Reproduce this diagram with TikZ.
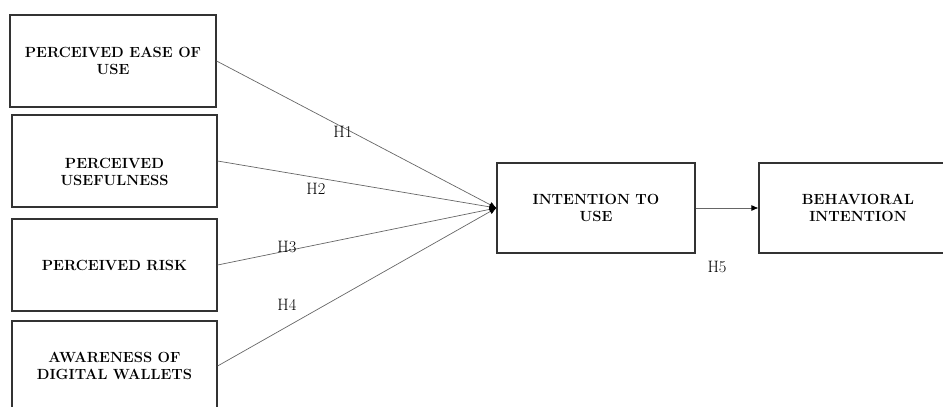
\documentclass[tikz,border=0pt]{standalone}
\usepackage{tikz}
\usetikzlibrary{arrows.meta}

\begin{document}
\begin{tikzpicture}[x=1pt,y=-1pt,
  construct/.style={draw=black!80,line width=1.2pt,rectangle,inner sep=0pt,align=center,
    font=\fontsize{14.7}{17}\selectfont\bfseries,minimum height=92pt},
  ctext/.style={align=center,inner sep=0pt,font=\fontsize{14.7}{17}\selectfont\bfseries},
  hyp/.style={inner sep=0pt,font=\fontsize{16.5}{18}\selectfont},
  path/.style={draw=black!60,line width=0.7pt,-{Latex[length=7pt,width=6pt,black]}}]
\useasboundingbox (0,0) rectangle (943,407);
\clip (0,0) rectangle (943,407);
% constructs
\node[construct,minimum width=206pt] (peou) at (113,61) {PERCEIVED EASE OF\\USE};
\node[construct,minimum width=205pt] (pu) at (114.5,161) {};
\node[ctext] (putext) at (114.5,172) {PERCEIVED\\USEFULNESS};
\node[construct,minimum width=205pt] (pr) at (114.5,265) {PERCEIVED RISK};
\node[construct,minimum width=205pt,minimum height=90pt] (adw) at (114.5,366) {AWARENESS OF\\DIGITAL WALLETS};
\node[construct,minimum width=198pt,minimum height=90pt] (itu) at (596,208) {INTENTION TO\\USE};
\node[construct,minimum width=198pt,minimum height=90pt] (bi) at (858,208) {BEHAVIORAL\\INTENTION};
% paths
\foreach \src in {peou,pu,pr,adw}
  \draw[path] (\src.east) -- (itu.west);
\draw[path] (itu.east) -- (bi.west);
% hypotheses
\node[hyp] (h1) at (343,132) {H1};
\node[hyp] (h2) at (316,189) {H2};
\node[hyp] (h3) at (287,247) {H3};
\node[hyp] (h4) at (287,305) {H4};
\node[hyp] (h5) at (717,267) {H5};
\end{tikzpicture}
\end{document}
